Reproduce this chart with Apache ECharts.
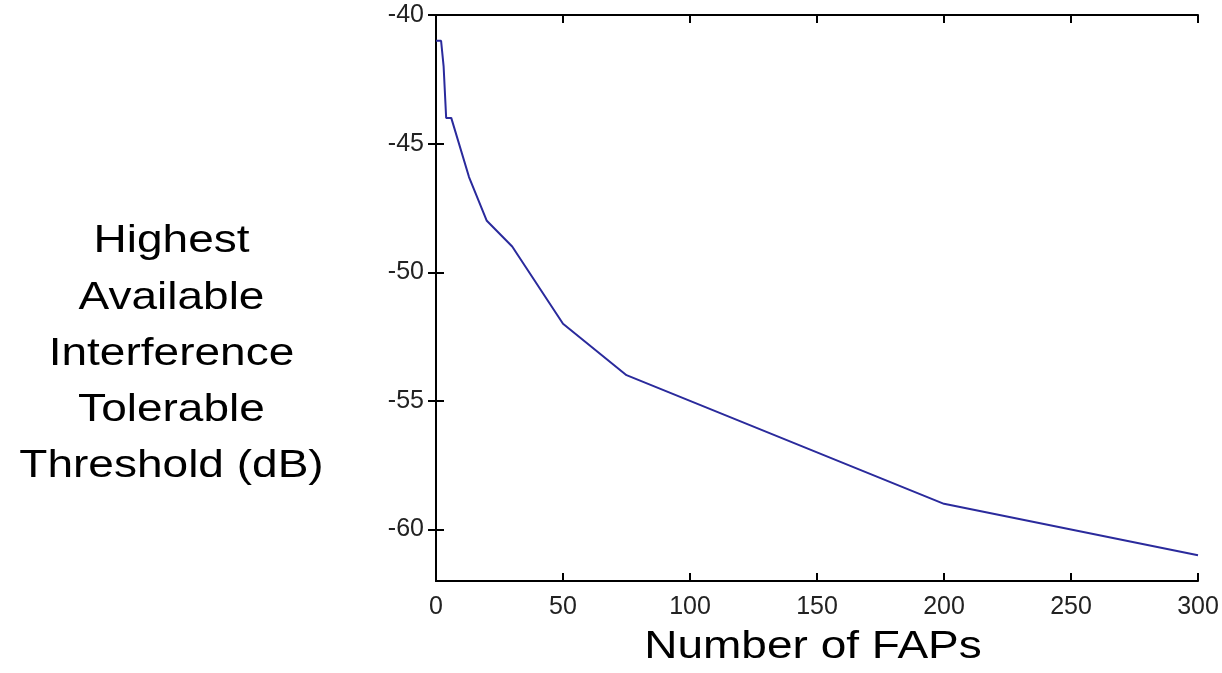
<!DOCTYPE html>
<html>
<head>
<meta charset="utf-8">
<title>Highest Available Interference Tolerable Threshold</title>
<script src="https://cdn.jsdelivr.net/npm/echarts@6/dist/echarts.min.js"></script>
<style>
  html, body { margin: 0; padding: 0; background: #fff; }
  #main { width: 1222px; height: 673px; }
</style>
</head>
<body>
<div id="main"></div>
<script>
// 数据：FAP 数量 与 阈值 (dB)
var fapCount = [0, 2, 3, 4, 6, 13, 20, 30, 50, 75, 200, 300];
var thresholdDb = [-41, -41, -42, -44, -44, -46.3, -48, -49, -52, -54, -59, -61];
var xTicks = [0, 50, 100, 150, 200, 250, 300];
var yTicks = [-60, -55, -50, -45, -40];

var pairs = fapCount.map(function (x, i) { return [x, thresholdDb[i]]; });

var myChart = echarts.init(document.getElementById('main'));

var tickLabel = { fontFamily: 'Liberation Sans', fontSize: 25, color: '#222' };
var boxLine = { show: true, lineStyle: { color: '#000', width: 2 } };
var boxTick = { show: true, inside: true, length: 8, lineStyle: { color: '#000', width: 2 } };

var option = {
  animation: false,
  backgroundColor: '#fff',
  grid: { left: 436, right: 24, top: 15, bottom: 92 },
  xAxis: [
    {
      type: 'value', position: 'bottom', min: 0, max: 300, interval: 50,
      axisLine: boxLine,
      axisTick: Object.assign({ customValues: xTicks }, boxTick),
      axisLabel: Object.assign({ margin: 14, customValues: xTicks }, tickLabel),
      splitLine: { show: false }
    },
    {
      type: 'value', position: 'top', min: 0, max: 300, interval: 50,
      axisLine: boxLine,
      axisTick: Object.assign({ customValues: xTicks }, boxTick),
      axisLabel: { show: false },
      splitLine: { show: false }
    }
  ],
  yAxis: [
    {
      type: 'value', position: 'left', min: -62, max: -40,
      axisLine: boxLine,
      axisTick: Object.assign({ customValues: yTicks }, boxTick),
      axisLabel: Object.assign({ margin: 12, customValues: yTicks, padding: [4, 0, 0, 0] }, tickLabel),
      splitLine: { show: false }
    },
    {
      type: 'value', position: 'right', min: -62, max: -40,
      axisLine: boxLine,
      axisTick: Object.assign({ customValues: yTicks }, boxTick),
      axisLabel: { show: false },
      splitLine: { show: false }
    }
  ],
  graphic: [
    {
      // y 轴标题，字体横向拉伸
      type: 'text', x: 171.5, y: 354, scaleX: 1.18,
      style: {
        text: 'Highest\nAvailable\nInterference\nTolerable\nThreshold (dB)',
        fontFamily: 'Liberation Sans', fontSize: 39, lineHeight: 56.25,
        fill: '#000', align: 'center', verticalAlign: 'middle'
      }
    },
    {
      type: 'text', x: 813, y: 647, scaleX: 1.18,
      style: {
        text: 'Number of FAPs',
        fontFamily: 'Liberation Sans', fontSize: 39,
        fill: '#000', align: 'center', verticalAlign: 'middle'
      }
    }
  ],
  series: [{
    type: 'line',
    xAxisIndex: 0, yAxisIndex: 0,
    data: pairs,
    showSymbol: false,
    lineStyle: { color: '#2a2a9c', width: 2 }
  }]
};
myChart.setOption(option);
</script>
</body>
</html>
